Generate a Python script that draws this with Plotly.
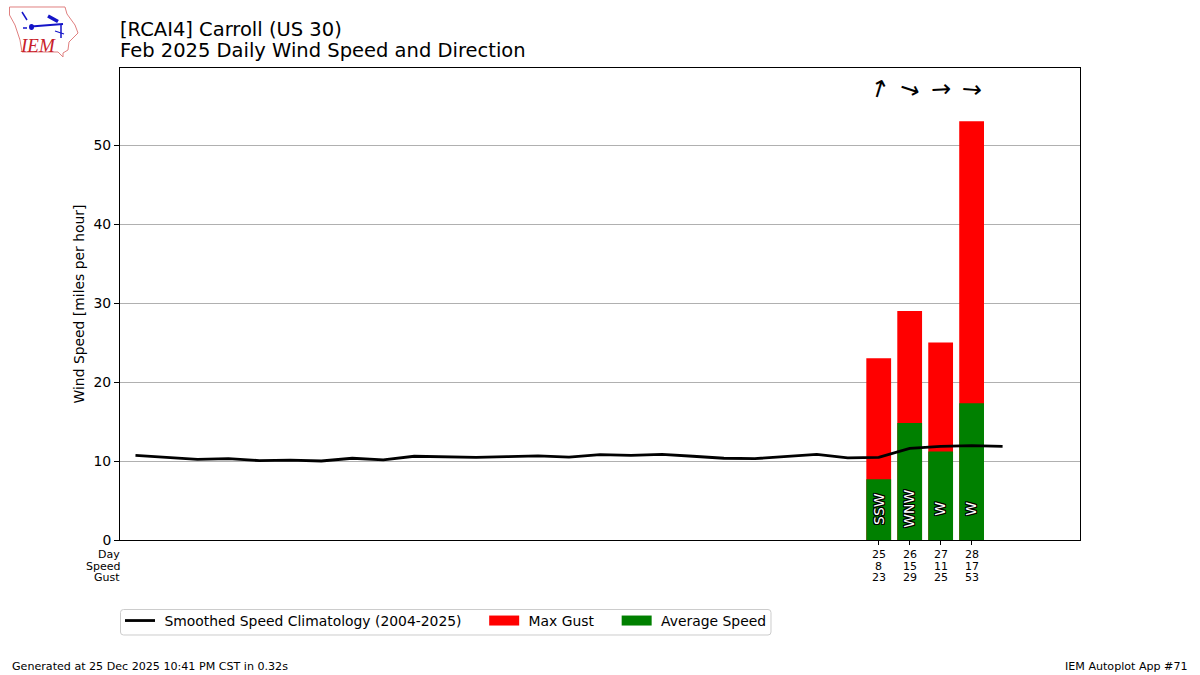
import plotly.graph_objects as go

days = [25, 26, 27, 28]
avg_speed = [7.7, 14.8, 11.2, 17.3]
max_gust = [23, 29, 25, 53]
speed_labels = [8, 15, 11, 17]
gust_labels = [23, 29, 25, 53]
direction_labels = ["SSW", "WNW", "W", "W"]
arrow_angles = [-73, 18, -3, 5]

clim_days = list(range(1, 30))
clim_speed = [10.7, 10.45, 10.2, 10.3, 10.05, 10.1, 10.0, 10.35, 10.15, 10.6,
              10.5, 10.45, 10.55, 10.65, 10.5, 10.8, 10.7, 10.85, 10.6, 10.35,
              10.3, 10.55, 10.85, 10.4, 10.45, 11.6, 11.85, 11.95, 11.85]

W, H = 1200, 675
L, R, T, B = 120, 1080, 68, 540
FONT = "DejaVu Sans"


def px(x):
    return (x - L) / (R - L)


def py(y):
    return (B - y) / (B - T)


SP = "\u00a0"
fig = go.Figure()
fig.add_bar(x=days, y=max_gust, marker_color="#ff0000", marker_line_width=0,
            width=0.8, showlegend=False, name="Max Gust")
fig.add_bar(x=days, y=avg_speed, marker_color="#008000", marker_line_width=0,
            width=0.8, showlegend=False, name="Average Speed")
fig.add_scatter(x=clim_days, y=clim_speed, mode="lines",
                line=dict(color="black", width=2.8),
                name=SP + "Smoothed Speed Climatology (2004-2025)" + SP * 4)
fig.add_scatter(x=[None], y=[None], mode="lines",
                line=dict(color="#ff0000", width=10), name=SP + "Max Gust" + SP * 4)
fig.add_scatter(x=[None], y=[None], mode="lines",
                line=dict(color="#008000", width=10), name=SP + "Average Speed")

ann = []


def note(text, x, y, size, anchor="left", xref="paper", yref="paper", color="black",
         angle=0, yanchor="middle", family=FONT, shadow=None):
    font = dict(family=family, size=size, color=color)
    if shadow:
        font["shadow"] = shadow
    ann.append(dict(text=text, x=x, y=y, xref=xref, yref=yref, xanchor=anchor,
                    yanchor=yanchor, showarrow=False, font=font, textangle=angle,
                    borderpad=0, borderwidth=0))


note("[RCAI4] Carroll (US 30)", px(120), py(29), 19.5)
note("Feb 2025 Daily Wind Speed and Direction", px(120), py(50.5), 19.5)
note("Generated at 25 Dec 2025 10:41 PM CST in 0.32s", px(12), py(666.5), 11.1)
note("IEM Autoplot App #71", px(1188), py(666.5), 11.1, anchor="right")

outline = "black"
for d, s, g, lab, ang in zip(days, speed_labels, gust_labels, direction_labels, arrow_angles):
    for row_y, val in ((554, d), (566, s), (577.5, g)):
        note(str(val), d, py(row_y), 11, anchor="center", xref="x")
    note(lab, d, 3.9, 14, anchor="center", xref="x", yref="y", color="white", angle=-90,
         shadow=f"1px 1px 0 {outline}, -1px -1px 0 {outline}, 1px -1px 0 {outline}, "
                f"-1px 1px 0 {outline}, 0 1px 0 {outline}, 0 -1px 0 {outline}, "
                f"1px 0 0 {outline}, -1px 0 0 {outline}")
    note("\u2192", d, 57.1, 24, anchor="center", xref="x", yref="y", angle=ang)

for row_y, lab in ((554, "Day"), (566, "Speed"), (577.5, "Gust")):
    note(lab, px(120), py(row_y), 11, anchor="right")

# IEM logo, drawn as shapes and text
logo_outline = [(9.5, 7), (65, 7), (67, 14), (75, 25), (78, 33), (69, 42), (68, 50),
                (63, 53), (63, 57), (58, 52), (22, 52), (20, 40), (15, 25), (9.5, 15)]
logo_path = "M " + " L ".join(f"{px(a):.5f},{py(b):.5f}" for a, b in logo_outline) + " Z"
shapes = [dict(type="path", path=logo_path, xref="paper", yref="paper",
               line=dict(color="#e08080", width=1))]
blue_lines = [((31, 26.5), (63, 24), 2), ((48, 16), (58, 21.5), 3.5), ((61, 24), (61, 38), 1.5),
              ((22, 12), (27, 20), 1.5), ((55, 31), (64, 34), 1.2), ((23, 28), (27, 28), 1.5)]
for (a, b), (c, d_), w_ in blue_lines:
    shapes.append(dict(type="line", x0=px(a), y0=py(b), x1=px(c), y1=py(d_), xref="paper",
                       yref="paper", line=dict(color="#1414c8", width=w_)))
shapes.append(dict(type="circle", x0=px(29), x1=px(34), y0=py(24), y1=py(30), xref="paper",
                   yref="paper", fillcolor="#1414c8", line=dict(color="#1414c8", width=0)))
note("<i>IEM</i>", px(37.5), py(45.5), 19, anchor="center", color="#c82028", family="Liberation Serif")

# rounded legend frame
x0, x1, y0, y1 = 120.5, 771, 609.5, 635
r = 3
frame = (f"M {px(x0 + r):.5f},{py(y0):.5f} L {px(x1 - r):.5f},{py(y0):.5f} "
         f"Q {px(x1):.5f},{py(y0):.5f} {px(x1):.5f},{py(y0 + r):.5f} "
         f"L {px(x1):.5f},{py(y1 - r):.5f} Q {px(x1):.5f},{py(y1):.5f} {px(x1 - r):.5f},{py(y1):.5f} "
         f"L {px(x0 + r):.5f},{py(y1):.5f} Q {px(x0):.5f},{py(y1):.5f} {px(x0):.5f},{py(y1 - r):.5f} "
         f"L {px(x0):.5f},{py(y0 + r):.5f} Q {px(x0):.5f},{py(y0):.5f} {px(x0 + r):.5f},{py(y0):.5f} Z")
shapes.append(dict(type="path", path=frame, xref="paper", yref="paper",
                   line=dict(color="#cccccc", width=1)))

fig.update_layout(
    width=W, height=H, autosize=False,
    margin=dict(l=L, r=W - R, t=T, b=H - B, pad=0),
    plot_bgcolor="white", paper_bgcolor="white",
    barmode="overlay", bargap=0.2,
    font=dict(family=FONT, color="black", size=14),
    annotations=ann, shapes=shapes,
    legend=dict(orientation="h", x=0, xanchor="left", y=py(605), yanchor="top",
                bgcolor="rgba(0,0,0,0)", borderwidth=0,
                font=dict(size=13.9), itemwidth=30, traceorder="normal"),
)
fig.update_xaxes(range=[0.5, 31.5], tickmode="array", tickvals=days, ticktext=[""] * 4,
                 ticks="outside", ticklen=4, tickcolor="black", showgrid=False,
                 zeroline=False, showline=True, linecolor="black", linewidth=1, mirror=True,
                 automargin=False)
fig.update_yaxes(range=[0, 59.75], tickmode="array", tickvals=[0, 10, 20, 30, 40, 50],
                 ticks="outside", ticklen=5, tickcolor="black", showgrid=True,
                 gridcolor="#b0b0b0", gridwidth=1, zeroline=False, showline=True,
                 linecolor="black", linewidth=1, mirror=True, automargin=False,
                 tickfont=dict(size=13.9), title=dict(text="Wind Speed [miles per hour]",
                 font=dict(size=13.9), standoff=5))

fig.write_html("out.html", config=dict(displayModeBar=False),
               post_script="document.body.style.margin='0';")
